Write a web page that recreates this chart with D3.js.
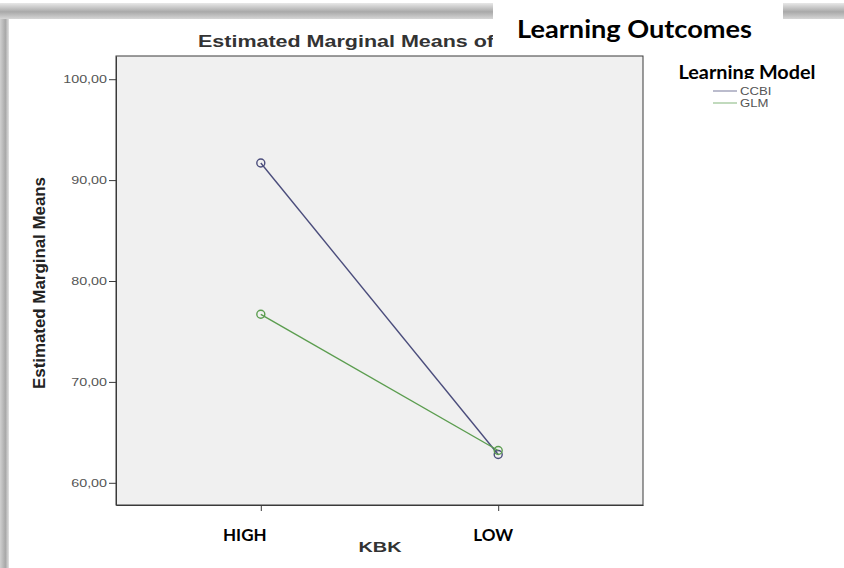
<!DOCTYPE html>
<html>
<head>
<meta charset="utf-8">
<script src="https://cdn.jsdelivr.net/npm/d3@7"></script>
<style>
  body { margin: 0; background: #fff; }
  svg { display: block; }
</style>
</head>
<body>
<svg width="844" height="568"></svg>
<script>
// data
var categories = ["HIGH", "LOW"];
var seriesNames = ["CCBI", "GLM"];
var ccbiValues = [91.7, 62.8];
var glmValues = [76.7, 63.2];
var yTicks = [60, 70, 80, 90, 100];
var seriesColors = ["#4b4d7c", "#5b9d4f"];

var svg = d3.select("svg"),
    margin = { top: 56, right: 201, bottom: 63, left: 116 },
    width = +svg.attr("width") - margin.left - margin.right,
    height = +svg.attr("height") - margin.top - margin.bottom;

// schaduw rand van de screenshot
var defs = svg.append("defs");
var gTop = defs.append("linearGradient").attr("id", "shTop").attr("x1", 0).attr("y1", 0).attr("x2", 0).attr("y2", 1);
gTop.append("stop").attr("offset", "0%").attr("stop-color", "#e8e8e8");
gTop.append("stop").attr("offset", "55%").attr("stop-color", "#a9a9a9");
gTop.append("stop").attr("offset", "100%").attr("stop-color", "#d6d6d6");
var gLeft = defs.append("linearGradient").attr("id", "shLeft").attr("x1", 0).attr("y1", 0).attr("x2", 1).attr("y2", 0);
gLeft.append("stop").attr("offset", "0%").attr("stop-color", "#d0d0d0");
gLeft.append("stop").attr("offset", "60%").attr("stop-color", "#a8a8a8");
gLeft.append("stop").attr("offset", "100%").attr("stop-color", "#e2e2e2");
defs.append("clipPath").attr("id", "legClip")
  .append("rect").attr("x", 660).attr("y", 50).attr("width", 180).attr("height", 29);

svg.append("rect").attr("x", 0).attr("y", 3).attr("width", 844).attr("height", 16).attr("fill", "url(#shTop)");
svg.append("rect").attr("x", 0).attr("y", 19).attr("width", 9).attr("height", 549).attr("fill", "url(#shLeft)");

var x = d3.scalePoint().domain(categories).range([0, width]).padding(0.61),
    y = d3.scaleLinear().domain([57.8, 102.3]).range([height, 0]);

var commaLocale = d3.formatLocale({ decimal: ",", thousands: ".", grouping: [3], currency: ["", ""] });
var fmt = commaLocale.format(".2f");

// tekst breder trekken zoals in het (uitgerekte) origineel
function stretch(sel, f) {
  sel.each(function() {
    var w = this.getComputedTextLength();
    d3.select(this).attr("textLength", w * f).attr("lengthAdjust", "spacingAndGlyphs");
  });
}

var g = svg.append("g")
    .attr("transform", "translate(" + margin.left + "," + margin.top + ")");

// grijze plot achtergrond
g.append("rect")
    .attr("width", width)
    .attr("height", height)
    .attr("fill", "#f0f0f0")
    .attr("stroke", "#3a3a3a")
    .attr("stroke-width", 1);

g.append("g")
    .attr("class", "axis axis--x")
    .attr("transform", "translate(0," + height + ")")
    .call(d3.axisBottom(x).tickSize(6).tickSizeOuter(0).tickFormat(""))
    .call(function(s) { s.select(".domain").attr("stroke", "#3a3a3a"); s.selectAll("line").attr("stroke", "#3a3a3a"); });

g.append("g")
    .attr("class", "axis axis--y")
    .call(d3.axisLeft(y).tickValues(yTicks).tickSize(7).tickSizeOuter(0).tickPadding(2).tickFormat(fmt))
    .call(function(s) {
      s.select(".domain").attr("stroke", "#3a3a3a");
      s.selectAll("line").attr("stroke", "#3a3a3a");
      s.selectAll("text").attr("fill", "#555").style("font-family", "Liberation Sans, Arial, sans-serif").style("font-size", "11px");
    });
g.selectAll(".axis--y text").call(stretch, 1.3);

// lijnen per serie
var series = [ccbiValues, glmValues];
var line = d3.line()
    .x(function(d, i) { return x(categories[i]); })
    .y(function(d) { return y(d); });

series.forEach(function(vals, k) {
  g.append("path")
      .datum(vals)
      .attr("fill", "none")
      .attr("stroke", seriesColors[k])
      .attr("stroke-width", 1.4)
      .attr("d", line);
  g.selectAll(".pt" + k)
      .data(vals)
    .enter().append("circle")
      .attr("class", "pt" + k)
      .attr("cx", function(d, i) { return x(categories[i]); })
      .attr("cy", function(d) { return y(d); })
      .attr("r", 4)
      .attr("fill", "none")
      .attr("stroke", seriesColors[k])
      .attr("stroke-width", 1.4);
});

// titel (half afgedekt)
svg.append("text")
    .attr("x", 198)
    .attr("y", 47)
    .attr("textLength", 296)
    .attr("lengthAdjust", "spacingAndGlyphs")
    .style("font-family", "Liberation Sans, Arial, sans-serif")
    .style("font-weight", "bold")
    .style("font-size", "16px")
    .attr("fill", "#333")
    .text("Estimated Marginal Means of");

svg.append("rect").attr("x", 493).attr("y", 2).attr("width", 290).attr("height", 50).attr("fill", "#fff");
svg.append("text")
    .attr("x", 517)
    .attr("y", 38)
    .attr("textLength", 235)
    .attr("lengthAdjust", "spacingAndGlyphs")
    .style("font-family", "Lato, Open Sans, sans-serif")
    .style("font-weight", "bold")
    .style("font-size", "24px")
    .attr("fill", "#000")
    .text("Learning Outcomes");

// y as titel
svg.append("text")
    .attr("transform", "translate(45,283) rotate(-90)")
    .attr("text-anchor", "middle")
    .attr("textLength", 212)
    .attr("lengthAdjust", "spacingAndGlyphs")
    .style("font-family", "Liberation Sans Narrow, Arial Narrow, sans-serif")
    .style("font-weight", "bold")
    .style("font-size", "17px")
    .attr("fill", "#222")
    .text("Estimated Marginal Means");

// x as labels (met de hand erover geplakt in het origineel)
var labelShift = [-16, -5];
svg.selectAll(".xlab")
    .data(categories)
  .enter().append("text")
    .attr("class", "xlab")
    .attr("x", function(d, i) { return margin.left + x(d) + labelShift[i]; })
    .attr("y", 541)
    .attr("text-anchor", "middle")
    .style("font-family", "Lato, Open Sans, sans-serif")
    .style("font-weight", "bold")
    .style("font-size", "17px")
    .attr("fill", "#000")
    .text(function(d) { return d; });

svg.append("text")
    .attr("x", 380)
    .attr("y", 552)
    .attr("text-anchor", "middle")
    .attr("textLength", 43)
    .attr("lengthAdjust", "spacingAndGlyphs")
    .style("font-family", "Liberation Sans, Arial, sans-serif")
    .style("font-weight", "bold")
    .style("font-size", "15px")
    .attr("fill", "#333")
    .text("KBK");

// legenda
svg.append("text")
    .attr("x", 747)
    .attr("y", 79)
    .attr("clip-path", "url(#legClip)")
    .attr("text-anchor", "middle")
    .attr("textLength", 137)
    .attr("lengthAdjust", "spacingAndGlyphs")
    .style("font-family", "Lato, Open Sans, sans-serif")
    .style("font-weight", "bold")
    .style("font-size", "18px")
    .attr("fill", "#000")
    .text("Learning Model");

var leg = svg.selectAll(".leg")
    .data(seriesNames)
  .enter().append("g")
    .attr("class", "leg")
    .attr("transform", function(d, i) { return "translate(713," + (91 + i * 12) + ")"; });
leg.append("line")
    .attr("x1", 0).attr("x2", 24)
    .attr("stroke", function(d, i) { return seriesColors[i]; })
    .attr("stroke-opacity", 0.5)
    .attr("stroke-width", 1.5);
leg.append("text")
    .attr("x", 27)
    .attr("dy", "0.35em")
    .style("font-family", "Liberation Sans, Arial, sans-serif")
    .style("font-size", "10.5px")
    .attr("fill", "#555")
    .text(function(d) { return d; })
    .call(stretch, 1.25);
</script>
</body>
</html>
